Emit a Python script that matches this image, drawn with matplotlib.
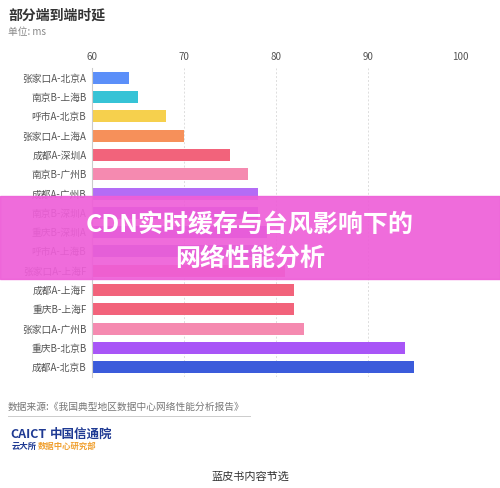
import matplotlib
matplotlib.use("Agg")
import matplotlib.pyplot as plt
from matplotlib.patches import Rectangle

plt.rcParams['font.family'] = ['Noto Sans CJK SC', 'DejaVu Sans']

labels = ["张家口A-北京A","南京B-上海B","呼市A-北京B","张家口A-上海A","成都A-深圳A","南京B-广州B",
          "成都A-广州B","南京B-深圳A","重庆B-深圳A","呼市A-上海B","张家口A-上海F","成都A-上海F",
          "重庆B-上海F","张家口A-广州B","重庆B-北京B","成都A-北京B"]
values = [64,65,68,70,75,77,78,78,79,79,81,82,82,83,94,95]
colors = ["#5b8ff9","#36c3d6","#f6d04d","#f6905a","#f2637b","#f58ab0","#b36cf6","#9d4ee8",
          "#9d4ee8","#8a63e0","#f2637b","#f2637b","#f2637b","#f58ab0","#a855f7","#3b5bdb"]
ticks = [60,70,80,90,100]

fig = plt.figure(figsize=(5,4.88), dpi=100)
ax = fig.add_axes([92/500, 1-377/488, 368/500, (377-68)/488])
y = range(len(labels))
ax.barh(y, [v-60 for v in values], left=60, color=colors, height=0.62)
ax.set_xlim(60,100)
ax.set_ylim(len(labels)-0.5, -0.5)
ax.set_yticks(list(y)); ax.set_yticklabels(labels, fontsize=7, color="#555555")
ax.set_xticks(ticks); ax.set_xticklabels([str(t) for t in ticks], fontsize=7, color="#555555")
ax.xaxis.tick_top()
ax.tick_params(length=0, pad=4)
ax.grid(axis='x', color='#dddddd', linestyle=(0,(2,2)), linewidth=0.7)
ax.set_axisbelow(True)
for s in ['top','right','bottom']:
    ax.spines[s].set_visible(False)
ax.spines['left'].set_color('#cccccc')

fig.text(8/500, 1-16/488, "部分端到端时延", fontsize=10, weight='bold', color="#333333", va='center')
fig.text(8/500, 1-32/488, "单位: ms", fontsize=7, color="#888888", va='center')
fig.text(8/500, 1-407/488, "数据来源:《我国典型地区数据中心网络性能分析报告》", fontsize=7, color="#777777", va='center')
fig.add_artist(plt.Line2D([8/500, 250/500], [1-416/488, 1-416/488], color='#cccccc', lw=0.7))
fig.text(10/500, 1-434/488, "CAICT", fontsize=9, weight='bold', color="#1f3a93", va='center')
fig.text(50/500, 1-434/488, "中国信通院", fontsize=9, weight='bold', color="#1f3a93", va='center')
fig.text(12/500, 1-446/488, "云大所", fontsize=6, weight='bold', color="#1f3a93", va='center')
fig.text(38/500, 1-446/488, "数据中心研究部", fontsize=6, weight='bold', color="#f0a030", va='center')
fig.text(250/500, 1-477/488, "蓝皮书内容节选", fontsize=8, color="#333333", ha='center', va='center')

fig.add_artist(Rectangle((0, 1-279/488), 1, (279-196)/488, transform=fig.transFigure,
                         color="#ee5fd8", alpha=0.92, zorder=10))
fig.text(250/500, 1-225/488, "CDN实时缓存与台风影响下的", fontsize=18, weight='bold', color="white",
         ha='center', va='center', zorder=11)
fig.text(250/500, 1-259/488, "网络性能分析", fontsize=18, weight='bold', color="white",
         ha='center', va='center', zorder=11)
fig.savefig("out.png", dpi=100)
